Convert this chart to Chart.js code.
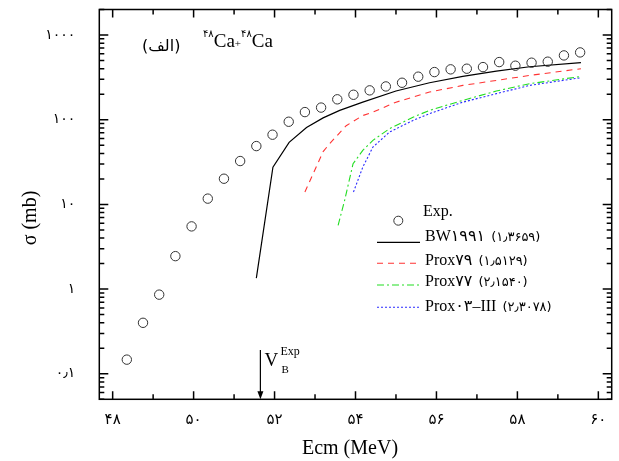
<!DOCTYPE html>
<html>
<head>
<meta charset="utf-8">
<script src="https://cdn.jsdelivr.net/npm/chart.js@4.4.0/dist/chart.umd.min.js"></script>
<style>
  html, body { margin: 0; padding: 0; background: #fff; }
  canvas { display: block; }
</style>
</head>
<body>
<canvas id="chart" width="619" height="461"></canvas>
<script>
// Experimental data
const expE = [48.35, 48.75, 49.15, 49.55, 49.95, 50.35, 50.75, 51.15, 51.55, 51.95,
  52.35, 52.75, 53.15, 53.55, 53.95, 54.35, 54.75, 55.15, 55.55, 55.95,
  56.35, 56.75, 57.15, 57.55, 57.95, 58.35, 58.75, 59.15, 59.55];
const expSigma = [0.147, 0.40, 0.86, 2.45, 5.5, 11.7, 20.1, 32.5, 48.8, 66.5,
  94.6, 123, 139, 174, 197, 222, 247, 273, 322, 365,
  393, 400, 418, 479, 434, 471, 484, 574, 623];

// BW1991
const bwE = [51.55, 51.96, 52.36, 52.79, 53.2, 53.61, 54.18, 55.0, 55.83, 56.65, 57.48, 58.3, 59.57];
const bwSigma = [1.35, 27.5, 54, 81, 105, 129, 161, 218, 273, 324, 375, 422, 471];

// Prox79
const p79E = [52.75, 53.2, 53.36, 53.77, 54.18, 54.43, 55.0, 55.83, 56.65, 57.48, 58.3, 59.57];
const p79Sigma = [14, 42, 52, 85, 112, 123, 161, 212, 254, 291, 333, 400];

// Prox77
const p77E = [53.57, 53.73, 53.94, 54.18, 54.43, 54.84, 55.42, 55.83, 56.65, 57.48, 58.3, 59.57];
const p77Sigma = [5.65, 11.1, 30.2, 43.4, 57, 78.3, 107, 129, 169, 218, 266, 324];

// Prox03-III
const p03E = [53.95, 54.18, 54.43, 54.84, 55.42, 55.83, 56.65, 57.48, 58.3, 59.57];
const p03Sigma = [14, 27.5, 47.5, 71.4, 98, 118, 161, 203, 254, 313];

const xTicks = [48, 50, 52, 54, 56, 58, 60];
const yTicks = [0.1, 1, 10, 100, 1000];

const legendNames = ['BW۱۹۹۱', 'Prox۷۹', 'Prox۷۷', 'Prox۰۳–III'];
const legendValues = ['(۱٫۳۶۵۹)', '(۱٫۵۱۲۹)', '(۲٫۱۵۴۰)', '(۲٫۳۰۷۸)'];
const vbExp = 51.65;

const SERIF = "'Liberation Serif', 'Times New Roman', 'DejaVu Sans', serif";
const SANS = "'DejaVu Sans', sans-serif";

function toFa(v) {
  const fa = '۰۱۲۳۴۵۶۷۸۹';
  return String(v).replace(/[0-9]/g, d => fa[d]).replace('.', '٫');
}

function pts(xs, ys) {
  return xs.map((x, i) => ({ x: x, y: ys[i] }));
}

const lineSets = [
  { data: pts(bwE, bwSigma), color: '#000000', dash: [], width: 1.2 },
  { data: pts(p79E, p79Sigma), color: '#ff3333', dash: [6, 5], width: 1.1 },
  { data: pts(p77E, p77Sigma), color: '#22dd22', dash: [7, 3, 2, 3], width: 1.1 },
  { data: pts(p03E, p03Sigma), color: '#2a2aff', dash: [2, 2], width: 1.1 }
];

const framePlugin = {
  id: 'frame',
  afterDraw(chart) {
    const ctx = chart.ctx;
    const a = chart.chartArea;
    const xs = chart.scales.x;
    const ys = chart.scales.y;
    ctx.save();
    ctx.strokeStyle = '#000';
    ctx.lineWidth = 1.5;
    ctx.strokeRect(a.left, a.top, a.right - a.left, a.bottom - a.top);

    // x ticks (inside, top and bottom)
    ctx.beginPath();
    for (let v = 48; v <= 60; v++) {
      const px = xs.getPixelForValue(v);
      const len = v % 2 === 0 ? 8 : 5;
      ctx.moveTo(px, a.bottom); ctx.lineTo(px, a.bottom - len);
      ctx.moveTo(px, a.top); ctx.lineTo(px, a.top + len);
    }
    // y ticks (inside, left and right)
    for (let d = -2; d <= 3; d++) {
      for (let m = 1; m <= 9; m++) {
        const v = m * Math.pow(10, d);
        if (v < 0.05 || v > 2000) continue;
        const py = ys.getPixelForValue(v);
        const len = m === 1 ? 9 : 5;
        ctx.moveTo(a.left, py); ctx.lineTo(a.left + len, py);
        ctx.moveTo(a.right, py); ctx.lineTo(a.right - len, py);
      }
    }
    ctx.stroke();

    // axis titles
    ctx.fillStyle = '#000';
    ctx.font = '20px ' + SERIF;
    ctx.textAlign = 'center';
    ctx.textBaseline = 'middle';
    ctx.fillText('Ecm (MeV)', 350, 449);
    ctx.save();
    ctx.translate(31, 218);
    ctx.rotate(-Math.PI / 2);
    ctx.fillText('σ (mb)', 0, 0);
    ctx.restore();

    // panel label and reaction
    ctx.textAlign = 'left';
    ctx.textBaseline = 'alphabetic';
    ctx.font = '16px ' + SANS;
    ctx.fillText('(الف)', 142, 51);
    let x = 203;
    const parts = [
      ['۴۸', '10px ' + SANS, 37],
      ['Ca', '19px ' + SERIF, 47],
      ['+', '11px ' + SERIF, 47],
      ['۴۸', '10px ' + SANS, 37],
      ['Ca', '19px ' + SERIF, 47]
    ];
    parts.forEach(p => {
      ctx.font = p[1];
      ctx.fillText(p[0], x, p[2]);
      x += ctx.measureText(p[0]).width;
    });

    // V_B^Exp arrow
    const vx = xs.getPixelForValue(vbExp);
    ctx.lineWidth = 1.2;
    ctx.beginPath();
    ctx.moveTo(vx, 350); ctx.lineTo(vx, a.bottom - 6);
    ctx.stroke();
    ctx.beginPath();
    ctx.moveTo(vx - 3, a.bottom - 8);
    ctx.lineTo(vx + 3, a.bottom - 8);
    ctx.lineTo(vx, a.bottom);
    ctx.closePath();
    ctx.fill();
    ctx.font = '19px ' + SERIF;
    ctx.fillText('V', vx + 4, 366);
    ctx.font = '11px ' + SERIF;
    ctx.fillText('B', vx + 21, 373);
    ctx.font = '12px ' + SERIF;
    ctx.fillText('Exp', vx + 20, 355);

    // legend
    ctx.strokeStyle = '#333';
    ctx.lineWidth = 1;
    ctx.beginPath();
    ctx.arc(398.3, 220.7, 4.5, 0, Math.PI * 2);
    ctx.stroke();
    ctx.textBaseline = 'middle';
    ctx.font = '16px ' + SERIF;
    ctx.fillText('Exp.', 423, 212);
    const rowLine = [242.3, 263.3, 285, 307.3];
    const rowText = [237, 261, 282, 307];
    lineSets.forEach((s, i) => {
      ctx.strokeStyle = s.color;
      ctx.lineWidth = s.width;
      ctx.setLineDash(s.dash);
      ctx.beginPath();
      ctx.moveTo(377, rowLine[i]); ctx.lineTo(420, rowLine[i]);
      ctx.stroke();
      ctx.setLineDash([]);
      ctx.fillStyle = '#000';
      ctx.font = '16px ' + SERIF;
      ctx.fillText(legendNames[i], 425, rowText[i]);
      const w = ctx.measureText(legendNames[i]).width;
      ctx.font = '13px ' + SANS;
      ctx.fillText(legendValues[i], 425 + w + 6, rowText[i] + 1);
    });
    ctx.restore();
  }
};

const datasets = [{
  label: 'Exp.',
  data: pts(expE, expSigma),
  showLine: false,
  pointStyle: 'circle',
  pointRadius: 4.7,
  pointBorderWidth: 1,
  pointBorderColor: '#333',
  pointBackgroundColor: 'rgba(0,0,0,0)'
}].concat(lineSets.map((s, i) => ({
  label: legendNames[i],
  data: s.data,
  showLine: true,
  pointRadius: 0,
  borderColor: s.color,
  borderWidth: s.width,
  borderDash: s.dash,
  tension: 0,
  fill: false
})));

new Chart(document.getElementById('chart').getContext('2d'), {
  type: 'scatter',
  data: { datasets: datasets },
  options: {
    responsive: false,
    animation: false,
    devicePixelRatio: 1,
    layout: { autoPadding: false, padding: { left: 0, top: 9.5, right: 7.3, bottom: 0 } },
    plugins: { legend: { display: false }, tooltip: { enabled: false } },
    scales: {
      x: {
        type: 'linear',
        min: 47.67,
        max: 60.33,
        afterBuildTicks: scale => { scale.ticks = xTicks.map(v => ({ value: v })); },
        afterFit: scale => {
          scale.height = 61.7;
          scale.paddingLeft = 0; scale.paddingRight = 0;
        },
        grid: { display: false, drawTicks: false },
        border: { display: false },
        ticks: {
          autoSkip: false,
          maxRotation: 0,
          padding: 12,
          color: '#000',
          font: { family: SANS, size: 15 },
          callback: v => toFa(v)
        }
      },
      y: {
        type: 'logarithmic',
        min: 0.05,
        max: 2000,
        afterBuildTicks: scale => { scale.ticks = yTicks.map(v => ({ value: v })); },
        afterFit: scale => {
          scale.width = 99.3;
          scale.paddingTop = 0; scale.paddingBottom = 0;
        },
        grid: { display: false, drawTicks: false },
        border: { display: false },
        ticks: {
          autoSkip: false,
          padding: 24,
          color: '#000',
          font: { family: SANS, size: 14 },
          callback: v => toFa(v)
        }
      }
    }
  },
  plugins: [framePlugin]
});
</script>
</body>
</html>
